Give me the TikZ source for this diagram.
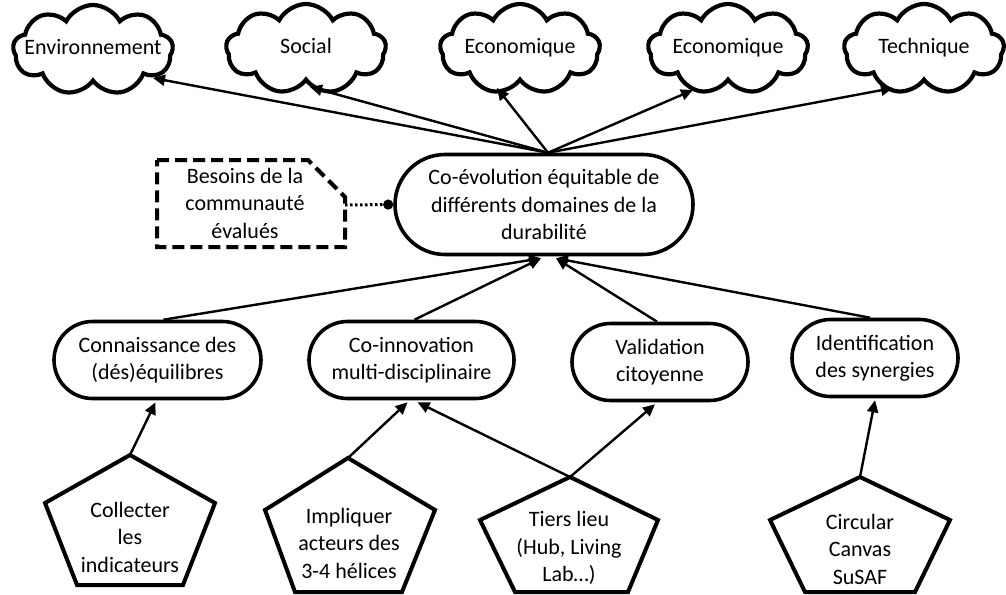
\documentclass[tikz,border=0pt]{standalone}
\usepackage{fontspec}
\setmainfont{Carlito}
\usetikzlibrary{shapes.symbols,shapes.misc,arrows.meta,calc}

\begin{document}
\begin{tikzpicture}[x=1pt,y=-1pt,
  every node/.style={font=\fontsize{22}{27.5}\selectfont, align=center, inner sep=0pt},
  puff/.style={cloud, cloud puffs=9, cloud puff arc=125, cloud ignores aspect,
    draw, line width=4.2pt, minimum width=160pt, minimum height=90pt},
  pufftext/.style={text height=15pt, text depth=5pt},
  stadium/.style={rounded rectangle, draw, line width=3.6pt},
  arr/.style={line width=2.4pt, -{Triangle[length=12pt,width=11pt]}},
  pentline/.style={line width=4pt, line join=miter},
  needline/.style={line width=4pt, dash pattern=on 12pt off 6pt, line join=miter},
  dotline/.style={line width=3pt, dash pattern=on 2.5pt off 2.5pt, -{Circle[length=10pt]}},
]
\useasboundingbox (0,0) rectangle (1006,594);

% sustainability domains: cloud outline, then its caption on top
\node[puff] (env)  at (93,50)  {};
\node[puff] (soc)  at (306,49) {};
\node[puff] (eco1) at (520,49) {};
\node[puff] (eco2) at (728,49) {};
\node[puff] (tech) at (924,49) {};
\node[pufftext] (envT)  at (env)  {Environnement};
\node[pufftext] (socT)  at (soc)  {Social};
\node[pufftext] (eco1T) at (eco1) {Economique};
\node[pufftext] (eco2T) at (eco2) {Economique};
\node[pufftext] (techT) at (tech) {Technique};

% central goal
\node[stadium, minimum width=298pt, minimum height=100pt] (goal) at (544,204.5)
  {Co-évolution équitable de\\différents domaines de la\\durabilité};

% community needs (dashed, cut corner)
\draw[needline] (157,160) -- (308,160) -- (345,197) -- (345,247) -- (157,247) -- cycle;
\node (needs) at (245,203) {Besoins de la\\communauté\\évalués};
\coordinate (needsE) at (345,205);
\draw[dotline] (needsE) -- (goal.west);

% intermediate objectives
\node[stadium, minimum width=207pt, minimum height=77pt] (conn)  at (157.5,360) {Connaissance des\\(dés)équilibres};
\node[stadium, minimum width=205pt, minimum height=77pt] (coinn) at (411.5,360) {Co-innovation\\multi-disciplinaire};
\node[stadium, minimum width=176pt, minimum height=77pt] (valid) at (660,362) {Validation\\citoyenne};
\node[stadium, minimum width=166pt, minimum height=77pt] (ident) at (875,358) {Identification\\des synergies};

% tools (pentagons)
\coordinate (collectT) at (130,455);
\draw[pentline] (collectT) -- (215,503) -- (183,585) -- (77,585) -- (45,503) -- cycle;
\node (collect) at (130,537) {Collecter\\les\\indicateurs};

\coordinate (implT) at (348,458);
\draw[pentline] (implT) -- (435,510) -- (402,592) -- (295,592) -- (265,510) -- cycle;
\node (impl) at (349,543) {Impliquer\\acteurs des\\3-4 hélices};

\coordinate (tiersT) at (570,477);
\draw[pentline] (tiersT) -- (658,520) -- (628,592) -- (515,592) -- (480,520) -- cycle;
\node (tiers) at (569,548) {Tiers lieu\\(Hub, Living\\Lab…)};

\coordinate (circT) at (860,477);
\draw[pentline] (circT) -- (950,520) -- (915,592) -- (805,592) -- (770,520) -- cycle;
\node (circ) at (860,549) {Circular\\Canvas\\SuSAF};

% goal -> domains
\draw[arr] ($(goal.north)+(4,0)$) -- ($(env.center)+(60,28)$);
\draw[arr] ($(goal.north)+(4,0)$) -- ($(soc.center)+(4,38)$);
\draw[arr] ($(goal.north)+(4,0)$) -- ($(eco1.center)+(-23,39)$);
\draw[arr] ($(goal.north)+(4,0)$) -- ($(eco2.center)+(-35,41)$);
\draw[arr] ($(goal.north)+(4,0)$) -- ($(tech.center)+(-31,39)$);

% objectives -> goal
\draw[arr] ($(conn.north)+(6,0)$)  -- ($(goal.south)+(-3,2)$);
\draw[arr] ($(coinn.north)+(3,0)$) -- ($(goal.south)+(-3,2)$);
\draw[arr] ($(valid.north)+(-3,0)$) -- ($(goal.south)+(12,2)$);
\draw[arr] ($(ident.north)+(-5,0)$) -- ($(goal.south)+(12,2)$);

% tools -> objectives
\draw[arr] (collectT) -- ($(conn.south)+(-2,2)$);
\draw[arr] (implT)    -- ($(coinn.south)+(-4,2)$);
\draw[arr] (tiersT)   -- ($(coinn.south)+(6,2)$);
\draw[arr] (tiersT)   -- ($(valid.south)+(-5,2)$);
\draw[arr] (circT)    -- ($(ident.south)+(0,2)$);
\end{tikzpicture}
\end{document}
